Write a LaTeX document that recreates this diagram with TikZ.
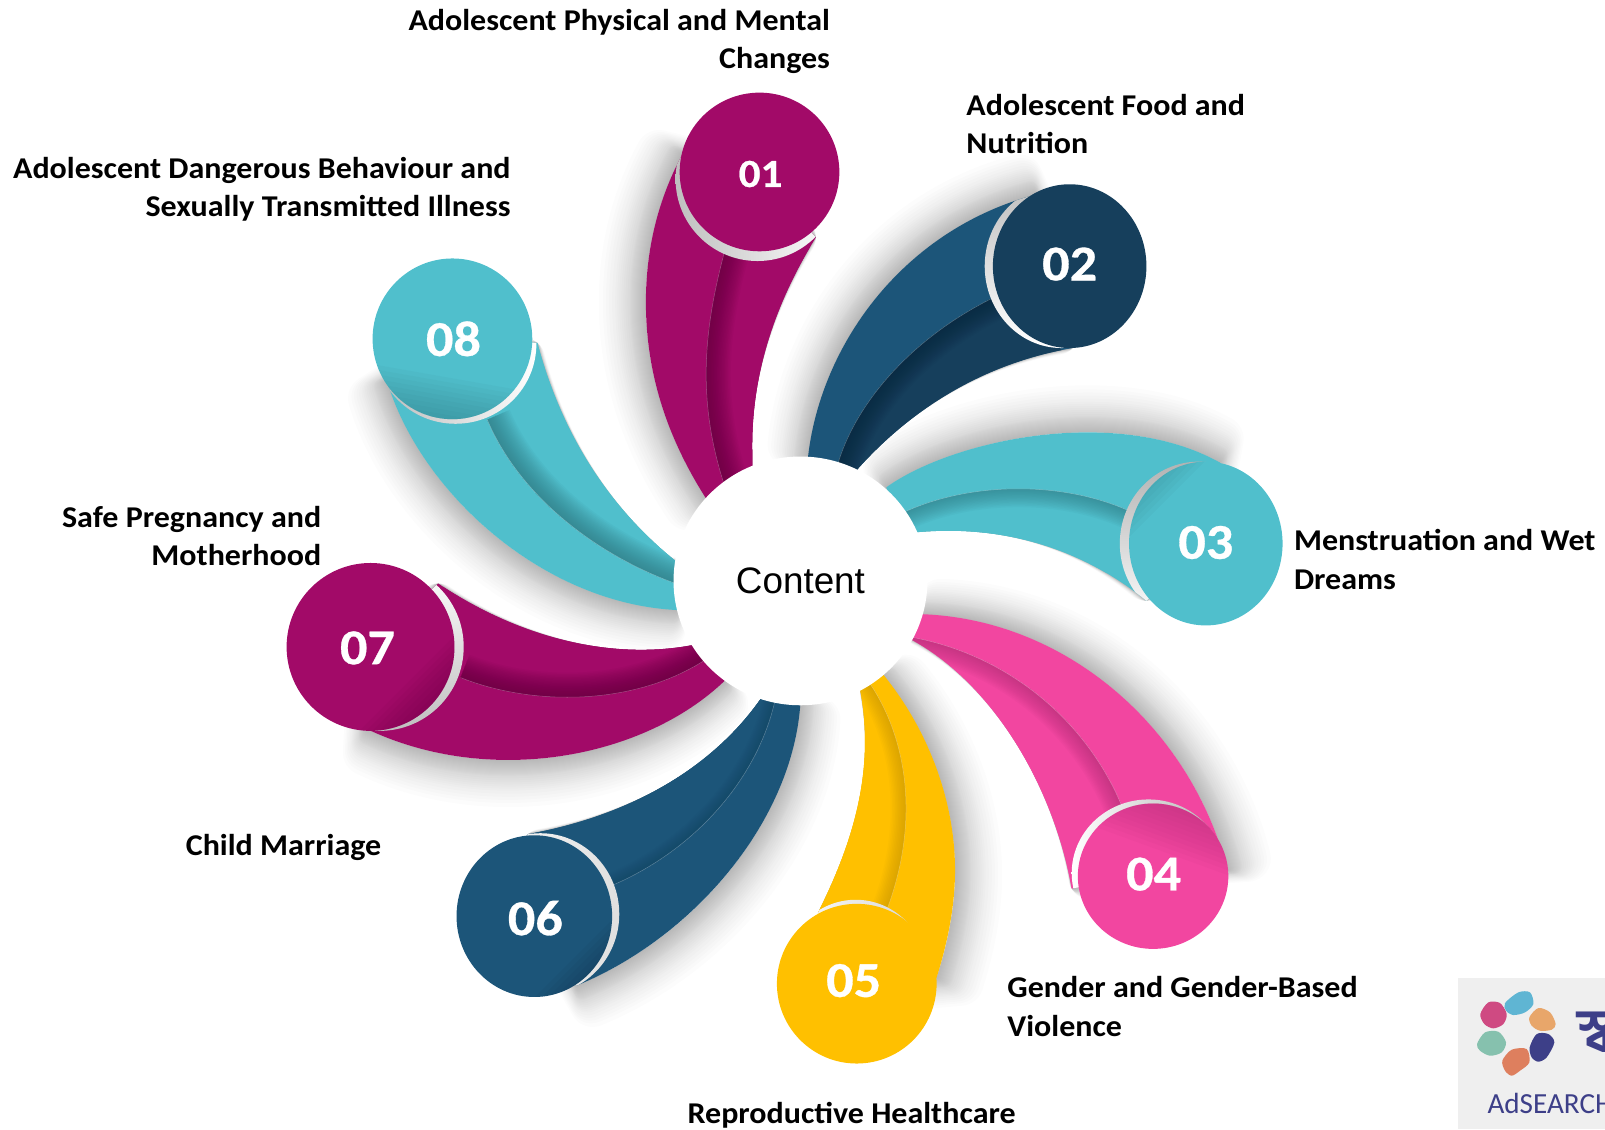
\documentclass[tikz,border=0pt]{standalone}
\usepackage{fontspec}
\setmainfont{Carlito}
\newfontfamily\contentfont{Liberation Sans}
\newfontfamily\lblfont[FakeStretch=1.06]{Carlito}
\newfontfamily\numfont[FakeStretch=1.08,FakeBold=0.6]{Carlito}
\newfontfamily\bn[Script=Bengali]{Hind Siliguri}
\usetikzlibrary{shapes.geometric}
\definecolor{mag}{HTML}{A20A68}
\definecolor{magd}{HTML}{5A0038}
\definecolor{blu}{HTML}{1C5579}
\definecolor{nav}{HTML}{163F5C}
\definecolor{navd}{HTML}{0A2438}
\definecolor{blud}{HTML}{123E5A}
\definecolor{tea}{HTML}{50BFCC}
\definecolor{tead}{HTML}{2A6F78}
\definecolor{pnk}{HTML}{F246A0}
\definecolor{pnkd}{HTML}{A82A70}
\definecolor{yel}{HTML}{FFC000}
\definecolor{yeld}{HTML}{B88A00}
\definecolor{logobg}{HTML}{EFEFEF}
\definecolor{logon}{HTML}{3D3F88}
\definecolor{lgp}{HTML}{CF4A82}
\definecolor{lgb}{HTML}{5FB5D3}
\definecolor{lgo}{HTML}{E8A66A}
\definecolor{lgc}{HTML}{DE7F5E}
\definecolor{lgg}{HTML}{86C1AE}
\tikzset{
  x=1pt,y=-1pt,
  disc/.style={shape=ellipse,inner sep=0pt,draw=none},
  numtxt/.style={text=white,font=\numfont\bfseries\fontsize{49}{49}\selectfont,inner sep=0pt},
  lbl/.style={text=black,font=\lblfont\bfseries\fontsize{29.5}{37.5}\selectfont,inner sep=0pt},
}
% body paths
\def\bA{(667,150) .. controls (640,200) and (631,250) .. (631,295) .. controls (631,370) and (655,435) .. (695,495) -- (735,470) -- (735,445) .. controls (733,370) and (755,300) .. (797,232) -- (742,168) -- cycle}
\def\lA{(708,245) .. controls (688,320) and (680,390) .. (708,475)}
\def\rA{(800,480) -- (810,240) -- cycle}
\def\bB{(1012,190) .. controls (880,225) and (800,340) .. (789,450) -- (830,470) -- (838,458) .. controls (890,400) and (960,355) .. (1048,340) -- (1044,260) -- cycle}
\def\lB{(972,290) .. controls (890,330) and (835,395) .. (818,455)}
\def\rB{(860,500) -- (1060,360) -- cycle}
\def\bC{(866,476) .. controls (930,430) and (1090,395) .. (1192,452) -- (1178,531) -- (1120,587) .. controls (1050,530) and (970,513) .. (895,520) -- (870,510) -- cycle}
\def\lC{(884,500) .. controls (950,470) and (1040,470) .. (1105,500)}
\def\rC{(1110,560) -- (885,560) -- cycle}
\def\bD{(900,600) .. controls (1045,605) and (1165,715) .. (1199,850) -- (1127,855) -- (1047,868) .. controls (1030,770) and (970,665) .. (885,622) -- cycle}
\def\lD{(888,622) .. controls (990,640) and (1065,710) .. (1097,790)}
\def\rD{(1040,880) -- (880,640) -- cycle}
\def\bE{(862,658) .. controls (905,710) and (933,780) .. (933,850) .. controls (933,885) and (926,920) .. (915,955) -- (837,962) -- (799,892) .. controls (835,820) and (855,750) .. (840,672) -- cycle}
\def\lE{(850,668) .. controls (885,720) and (900,800) .. (866,890)}
\def\rE{(780,900) -- (830,660) -- cycle}
\def\bF{(782,686) .. controls (775,800) and (680,915) .. (563,963) -- (524,895) -- (515,815) .. controls (600,800) and (690,760) .. (745,680) -- cycle}
\def\lF{(757,685) .. controls (740,760) and (680,830) .. (598,865)}
\def\rF{(500,800) -- (740,670) -- cycle}
\def\bG{(428,570) .. controls (510,625) and (600,645) .. (678,630) -- (708,665) .. controls (630,740) and (480,770) .. (358,712) -- (362,632) -- cycle}
\def\lG{(450,662) .. controls (520,690) and (620,690) .. (690,644)}
\def\rG{(700,610) -- (430,560) -- cycle}
\def\bH{(378,372) .. controls (410,480) and (530,590) .. (662,596) -- (670,550) -- (660,548) .. controls (600,500) and (550,430) .. (525,335) -- (442,331) -- cycle}
\def\lH{(476,410) .. controls (510,490) and (590,545) .. (660,570)}
\def\rH{(680,530) -- (530,320) -- cycle}
% \shadowof{body}{ux}{uy}: tapered soft shadow on one side only
\newcommand\shadowof[3]{%
  \foreach \w in {1,2,3,4,5,6,7,8,9,10,11,12,13,14,15,16,18,20,22,24,26,28,30,33,36,39,42,46}{\draw[black,opacity=.012,line width=\w pt,line join=round,shift={({#2*\w/2},{#3*\w/2})}] #1;}}
% \armparts{body}{line}{rest}{col}{bandfill}{dark}{steps}{crescent}{shade}
\newcommand\armparts[9]{%
  \fill[#4] #1;
  \begin{scope}
    \clip #1;
    \clip #2 -- #3;
    \fill[#5] (0,0) rectangle (1568,1103);
    \foreach \w in {3,6,...,#7}{\draw[#6,opacity=.055,line width=\w pt] #2;}
  \end{scope}
  \begin{scope}
    \clip #1;
    \draw[white,opacity=.3,line width=.5pt] #2;
    \shade[#9] (#8) ellipse;
  \end{scope}}
% \discshade{cx}{cy}{rx}{ry}{angle}{n}{colour}
\newcommand\discshade[7]{%
  \begin{scope}
    \clip (#1,#2) ellipse (#3 and #4);
    \foreach \k in {1,...,#6}{\fill[#7,opacity=.05,rotate around={#5:(#1,#2)}] (#1-110,#2-110) rectangle (#1+110,{#2-#4+\k*4.5});}
  \end{scope}}
\begin{document}
\begin{tikzpicture}
\useasboundingbox (0,0) rectangle (1568,1103);
% shadows
\shadowof{\bA}{-1}{0}
\shadowof{\bB}{-.7}{-.7}
\shadowof{\bC}{0}{-1}
\shadowof{\bD}{.85}{-.5}
\shadowof{\bE}{1}{.2}
\shadowof{\bF}{.7}{.75}
\shadowof{\bG}{0}{1}
\shadowof{\bH}{-.65}{.75}
% arms
\armparts{\bA}{\lA}{\rA}{mag}{mag}{magd}{48}{740,175) ellipse (80 and 80}{left color=gray!50,middle color=white,right color=white}
\armparts{\bB}{\lB}{\rB}{blu}{nav}{navd}{45}{1037,260) ellipse (75 and 80}{top color=gray!50,middle color=gray!20,bottom color=white}
\armparts{\bC}{\lC}{\rC}{tea}{tea}{tead}{36}{1171,531) ellipse (77 and 80}{top color=gray!60,middle color=white,bottom color=white}
\armparts{\bD}{\lD}{\rD}{pnk}{pnk}{pnkd}{36}{1122,853) ellipse (75 and 72}{left color=white,middle color=gray!20,right color=gray!60}
\armparts{\bE}{\lE}{\rE}{yel}{yel}{yeld}{30}{836,956) ellipse (72 and 77}{left color=white,middle color=white,right color=gray!35}
\armparts{\bF}{\lF}{\rF}{blu}{blu}{blud}{24}{528,893) ellipse (77 and 79}{left color=white,middle color=white,right color=gray!25}
\armparts{\bG}{\lG}{\rG}{mag}{mag}{magd}{48}{371,632) ellipse (82 and 82}{top color=white,middle color=white,bottom color=gray!50}
\armparts{\bH}{\lH}{\rH}{tea}{tea}{tead}{48}{445,336) ellipse (79 and 78}{left color=gray!55,middle color=gray!30,right color=white}
% discs
\node[disc,fill=mag,minimum width=156pt,minimum height=155pt] (d1) at (742,168) {};
\node[disc,fill=nav,minimum width=150pt,minimum height=160pt] (d2) at (1045,260) {};
\node[disc,fill=tea,minimum width=150pt,minimum height=160pt] (d3) at (1178,531) {};
\node[disc,fill=pnk,minimum width=147pt,minimum height=142pt] (d4) at (1126.5,856) {};
\node[disc,fill=yel,minimum width=156pt,minimum height=156pt] (d5) at (837,961) {};
\node[disc,fill=blu,minimum width=152pt,minimum height=158pt] (d6) at (522,895) {};
\node[disc,fill=mag,minimum width=164pt,minimum height=164pt] (d7) at (362,632) {};
\node[disc,fill=tea,minimum width=156pt,minimum height=157pt] (d8) at (442,331) {};
\discshade{1178}{531}{75}{80}{45}{5}{tead}
\discshade{1126.5}{856}{73.5}{71}{-20}{10}{pnkd}
\discshade{522}{895}{76}{79}{-135}{5}{navd}
\discshade{362}{632}{82}{82}{-135}{7}{magd}
\discshade{442}{331}{78}{78.5}{170}{9}{tead}
% numbers
\node[numtxt,font=\numfont\bfseries\fontsize{39}{39}\selectfont] (n1) at (743,170) {01};
\node[numtxt] (n2) at (1045,258) {02};
\node[numtxt] (n3) at (1178,530) {03};
\node[numtxt] (n4) at (1127,854) {04};
\node[numtxt] (n5) at (834,958) {05};
\node[numtxt] (n6) at (523,897) {06};
\node[numtxt] (n7) at (359,633) {07};
\node[numtxt] (n8) at (443,331) {08};
% centre
\node[shape=ellipse,fill=white,minimum width=248pt,minimum height=243pt,inner sep=0pt,font=\contentfont\fontsize{36}{36}\selectfont,text=black] (hub) at (782,567.5) {Content};
% labels
\node[lbl,anchor=north east,align=right] (t1) at (811,9) {Adolescent Physical and Mental\\Changes};
\node[lbl,anchor=north west,align=left] (t2) at (944,92) {Adolescent Food and\\Nutrition};
\node[lbl,anchor=north west,align=left] (t3) at (1264,517) {Menstruation and Wet\\Dreams};
\node[lbl,anchor=north west,align=left] (t4) at (984,954) {Gender and Gender-Based\\Violence};
\node[lbl] (t5) at (832,1090) {Reproductive Healthcare};
\node[lbl] (t6) at (277,828) {Child Marriage};
\node[lbl,anchor=north east,align=right] (t7) at (314,494) {Safe Pregnancy and\\Motherhood};
\node[lbl,anchor=north east,align=right] (t8) at (499,153) {Adolescent Dangerous Behaviour and\\Sexually Transmitted Illness};
% logo
\begin{scope}
\clip (0,0) rectangle (1568,1103);
\fill[logobg] (1424,955) rectangle (1568,1103);
\begin{scope}[shift={(1372.6,907.6)},x=.3257pt,y=-.3257pt]
\fill[lgp] plot[smooth cycle] coordinates {(226,255) (250,220) (285,222) (305,255) (295,285) (265,298) (238,285)};
\fill[lgb] plot[smooth cycle] coordinates {(300,222) (340,190) (375,190) (385,225) (360,250) (325,258) (303,245)};
\fill[lgo] plot[smooth cycle] coordinates {(373,265) (400,237) (435,250) (452,285) (440,302) (405,305) (380,290)};
\fill[logon] plot[smooth cycle] coordinates {(374,355) (395,315) (430,315) (448,340) (425,385) (400,398) (380,385)};
\fill[lgc] plot[smooth cycle] coordinates {(292,395) (320,362) (365,360) (373,400) (345,425) (320,440) (300,425)};
\fill[lgg] plot[smooth cycle] coordinates {(216,345) (240,310) (280,308) (303,340) (290,370) (255,380) (225,365)};
\end{scope}
\node[anchor=west,inner sep=0pt,text=logon,font=\fontsize{28.5}{28.5}\selectfont] (lg) at (1453,1078) {AdSEARCH};
\node[anchor=west,inner sep=0pt,text=logon,font=\bn\bfseries\fontsize{60}{60}\selectfont] (lh) at (1541,1008) {স্ব};
\end{scope}
\end{tikzpicture}
\end{document}
